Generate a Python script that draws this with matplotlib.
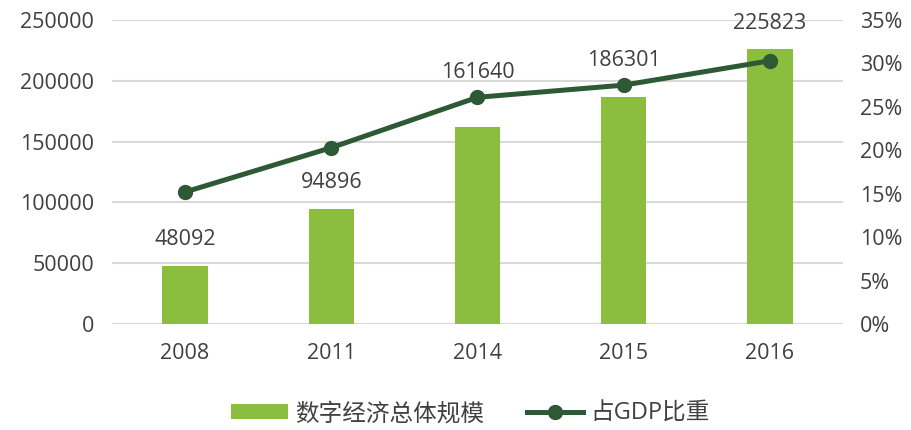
import matplotlib.pyplot as plt
import numpy as np
from matplotlib.ticker import FuncFormatter

years = ['2008', '2011', '2014', '2015', '2016']
scale = [48092, 94896, 161640, 186301, 225823]
gdp_share = [15.2, 20.3, 26.1, 27.5, 30.3]
# where the value label sits: above the bar, or above the line point
label_anchor = ['bar', 'bar', 'line', 'line', 'bar']

bar_color = '#8BBD3F'
line_color = '#2D5934'
text_color = '#404040'
fonts = ['Open Sans', 'Noto Sans CJK SC', 'DejaVu Sans']

plt.rcParams['font.family'] = fonts

fig = plt.figure(figsize=(9.12, 4.30), dpi=100)
ax = fig.add_axes([0.1228, 0.2465, 0.8015, 0.707])
ax2 = ax.twinx()

x = np.arange(len(years))
bars = ax.bar(x, scale, width=0.31, color=bar_color, zorder=2, label='数字经济总体规模')
line, = ax2.plot(x, gdp_share, color=line_color, lw=3.6, marker='o', markersize=10,
                 zorder=3, label='占GDP比重')

ax.set_xlim(-0.5, len(years) - 0.5)
ax.set_ylim(0, 250000)
ax2.set_ylim(0, 35)
ax.set_yticks(np.arange(0, 250001, 50000))
ax2.set_yticks(np.arange(0, 36, 5))
ax2.yaxis.set_major_formatter(FuncFormatter(lambda v, p: f'{v:.0f}%'))
ax.set_xticks(x)
ax.set_xticklabels(years)

ax.yaxis.grid(True, color='#D9D9D9', lw=1.5, zorder=0)
ax.set_axisbelow(True)
for a in (ax, ax2):
    for s in a.spines.values():
        s.set_visible(False)
    a.tick_params(length=0, labelsize=15.5, colors=text_color)
ax.tick_params(axis='y', pad=13)
ax.tick_params(axis='x', pad=14)
ax2.tick_params(axis='y', pad=12)

for i, v in enumerate(scale):
    if label_anchor[i] == 'bar':
        ax.annotate(f'{v}', (x[i], v), xytext=(0, 19), textcoords='offset points',
                    ha='center', va='center', fontsize=15.5, color=text_color)
    else:
        ax2.annotate(f'{v}', (x[i], gdp_share[i]), xytext=(0, 18), textcoords='offset points',
                     ha='center', va='center', fontsize=15.5, color=text_color)

fig.legend(handles=[bars, line], loc='center', bbox_to_anchor=(0.516, 0.037), ncol=2,
           frameon=False, fontsize=17, labelcolor=text_color, handlelength=2.4,
           handleheight=0.6, columnspacing=1.8, handletextpad=0.3)

fig.savefig('out.png', dpi=100)
